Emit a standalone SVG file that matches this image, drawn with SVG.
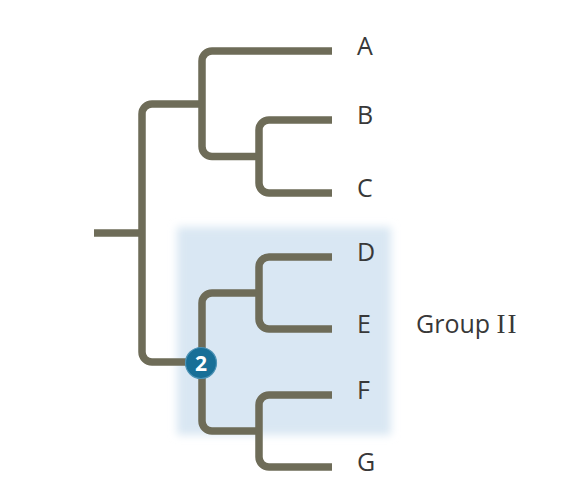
<svg xmlns="http://www.w3.org/2000/svg" width="564" height="490" viewBox="0 0 564 490">
  <defs>
    <filter id="soft" x="-10%" y="-10%" width="120%" height="120%">
      <feGaussianBlur stdDeviation="4"/>
    </filter>
  </defs>
  <style>
    .br { fill: none; stroke: #6e6c58; stroke-width: 7.5; stroke-linecap: butt; stroke-linejoin: round; }
    .lbl { font-family: "Open Sans", "Noto Sans", "Liberation Sans", sans-serif; font-size: 25px; fill: #383838; }
    .rom { font-family: "Liberation Serif", "DejaVu Serif", serif; font-size: 27px; fill: #383838; letter-spacing: 2px; }
    .num { font-family: "Open Sans", "Liberation Sans", sans-serif; font-size: 21px; font-weight: bold; fill: #ffffff; }
  </style>
  <rect width="564" height="490" fill="#ffffff"/>

  <g id="group-II-box">
    <rect x="177" y="227" width="214" height="208" fill="#d9e7f3" filter="url(#soft)"/>
  </g>

  <g id="connectors">
    <path class="br" d="M94 233 H142"/>
    <path class="br" d="M202 104 H152 A10 10 0 0 0 142 114 V352 A10 10 0 0 0 152 362 H202"/>
    <path class="br" d="M332 51 H212 A10 10 0 0 0 202 61 V146.5 A10 10 0 0 0 212 156.5 H259"/>
    <path class="br" d="M332 120 H269 A10 10 0 0 0 259 130 V183 A10 10 0 0 0 269 193 H332"/>
    <path class="br" d="M259 293 H212 A10 10 0 0 0 202 303 V421 A10 10 0 0 0 212 431 H259"/>
    <path class="br" d="M332 257 H269 A10 10 0 0 0 259 267 V319 A10 10 0 0 0 269 329 H332"/>
    <path class="br" d="M332 395 H269 A10 10 0 0 0 259 405 V457 A10 10 0 0 0 269 467 H332"/>
  </g>

  <g id="node-2">
    <circle cx="201" cy="363" r="15.5" fill="#186f97" stroke="#4e93b5" stroke-width="1.2"/>
    <text class="num" x="201" y="370.5" text-anchor="middle">2</text>
  </g>

  <g id="leaf-A"><text class="lbl" x="357" y="55">A</text></g>
  <g id="leaf-B"><text class="lbl" x="357" y="124">B</text></g>
  <g id="leaf-C"><text class="lbl" x="357" y="197">C</text></g>
  <g id="leaf-D"><text class="lbl" x="357" y="261">D</text></g>
  <g id="leaf-E"><text class="lbl" x="357" y="333">E</text></g>
  <g id="leaf-F"><text class="lbl" x="357" y="399">F</text></g>
  <g id="leaf-G"><text class="lbl" x="357" y="471">G</text></g>

  <g id="label-group-II">
    <text x="416" y="333"><tspan class="lbl">Group </tspan><tspan class="rom">II</tspan></text>
  </g>
</svg>
